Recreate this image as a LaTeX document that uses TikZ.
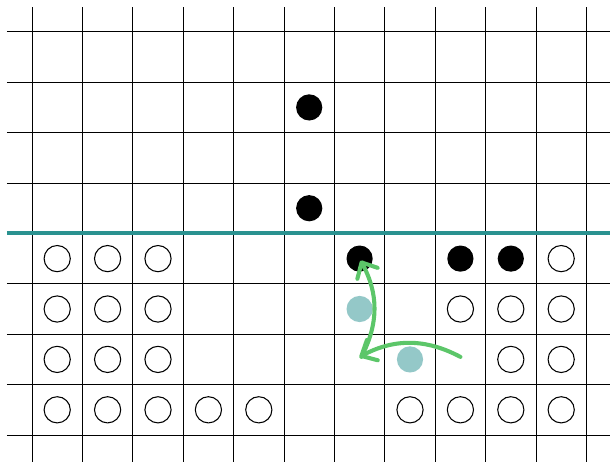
\documentclass[tikz,border=0pt]{standalone}
\usepackage{tikz}
\usetikzlibrary{arrows.meta}
\definecolor{tealline}{HTML}{2A9290}
\definecolor{tealdot}{HTML}{94C8C8}
\definecolor{movegreen}{HTML}{5CC669}

\begin{document}
\begin{tikzpicture}[x=1cm,y=1cm,
    stone/.style={circle,inner sep=0pt,minimum size=0.52cm},
    white stone/.style={stone,draw,line width=0.6pt},
    black stone/.style={stone,fill=black},
    ghost stone/.style={stone,fill=tealdot},
    move/.style={movegreen,line width=2.3pt,line cap=round,
        -{Straight Barb[length=7pt,width=13pt,round]}}]
    \useasboundingbox (-0.635,-0.516) rectangle (11.468,8.631);

    % board
    \foreach \x in {0,...,11}
        \draw[line width=0.5pt] (\x,-0.6) -- (\x,8.5);
    \foreach \y in {0,1,2,3,5,6,7,8}
        \draw[line width=0.5pt] (-0.5,\y) -- (11.6,\y);
    \draw[tealline,line width=2.2pt] (-0.5,4) -- (11.6,4);

    % stones
    \foreach \c/\r in {0/3,1/3,2/3,10/3,
                       0/2,1/2,2/2,8/2,9/2,10/2,
                       0/1,1/1,2/1,9/1,10/1,
                       0/0,1/0,2/0,3/0,4/0,7/0,8/0,9/0,10/0}
        \node[white stone] (w\c-\r) at (\c+0.5,\r+0.5) {};
    \foreach \c/\r in {5/6,5/4,6/3,8/3,9/3}
        \node[black stone] (b\c-\r) at (\c+0.5,\r+0.5) {};
    \foreach \c/\r in {6/2,7/1}
        \node[ghost stone] (g\c-\r) at (\c+0.5,\r+0.5) {};

    % moves
    \coordinate (from) at (8.5,1.55);
    \coordinate (turn) at (6.5,1.55);
    \coordinate (onto) at (6.52,3.46);
    \draw[move] (from) to[bend right=28] (turn);
    \draw[move] ([xshift=1pt]turn) to[bend right=28] (onto);
\end{tikzpicture}
\end{document}
